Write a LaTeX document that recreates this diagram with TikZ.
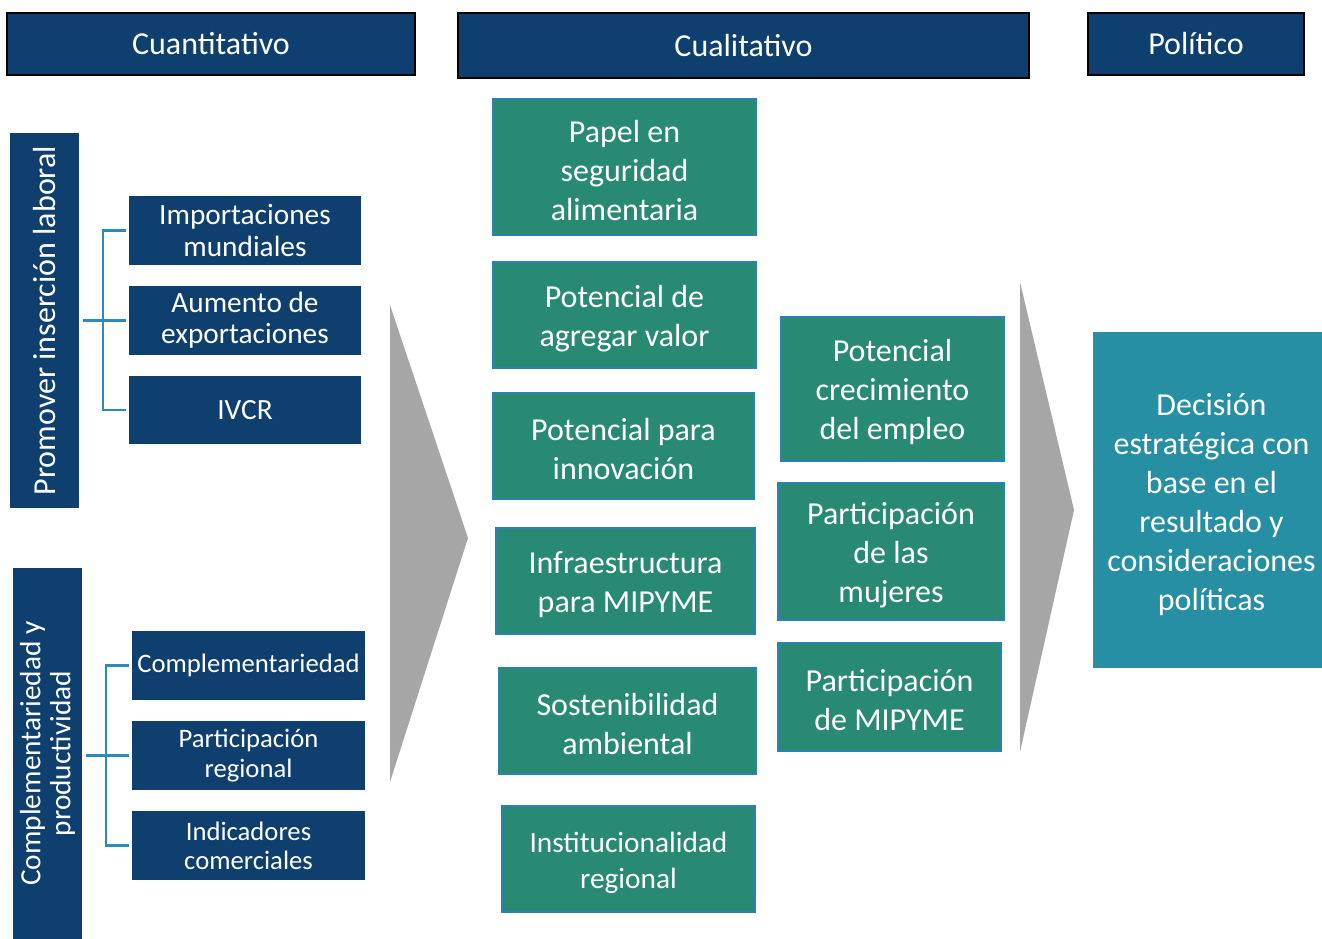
\documentclass[tikz,border=0pt]{standalone}
\usepackage{fontspec}
\setmainfont{Carlito}
\usetikzlibrary{fit}
\definecolor{navy}{HTML}{0E3F6E}
\definecolor{grn}{HTML}{298A73}
\definecolor{grnedge}{HTML}{2A82B2}
\definecolor{teal}{HTML}{268FA3}
\definecolor{brk}{HTML}{2C8BBA}
\definecolor{chev}{HTML}{A6A6A6}
\newcommand{\fa}{\fontsize{24}{29.25}\selectfont}
\newcommand{\fb}{\fontsize{22}{23.5}\selectfont}
\newcommand{\fc}{\fontsize{20}{22}\selectfont}
\begin{document}
\begin{tikzpicture}[x=0.75pt,y=-0.75pt,
  hdr/.style={draw=black, line width=0.8pt, fill=navy, inner sep=0pt},
  nbox/.style={fill=navy, inner sep=0pt},
  gbox/.style={draw=grnedge, line width=1.4pt, fill=grn, inner sep=0pt},
  tbox/.style={fill=teal, inner sep=0pt},
  txt/.style={text=white, inner sep=0pt, align=center},
  gtxt/.style={txt, font=\fa, yshift=-2.5pt},
  brline/.style={draw=brk, line width=1.6pt},
  chevron/.style={fill=chev}]
\useasboundingbox (0,0) rectangle (1322,939);
% headers
\node[hdr, fit={(7,13)(415,75)}] (h1) {};
\node[txt, font=\fa] (h1t) at (h1.center) {Cuantitativo};
\node[hdr, fit={(458,13)(1029,78)}] (h2) {};
\node[txt, font=\fa] (h2t) at (h2.center) {Cualitativo};
\node[hdr, fit={(1088,13)(1304,75)}] (h3) {};
\node[txt, font=\fa] (h3t) at (h3.center) {Político};
% left bars
\node[nbox, fit={(10,133)(79,508)}] (bar1) {};
\node[txt, rotate=90, font=\fa] (bar1t) at (bar1.center) {Promover inserción laboral};
\node[nbox, fit={(13,568)(82,939)}] (bar2) {};
\node[txt, rotate=90, font=\fontsize{22}{22.5}\selectfont] (bar2t) at (bar2.center) {Complementariedad y\\productividad};
% quantitative boxes
\node[nbox, fit={(129,196)(361,265)}] (imp) {};
\node[txt, font=\fb] (impt) at (imp.center) {Importaciones\\mundiales};
\node[nbox, fit={(129,286)(361,355)}] (aum) {};
\node[txt, font=\fb] (aumt) at (aum.center) {Aumento de\\exportaciones};
\node[nbox, fit={(129,376)(361,444)}] (ivcr) {};
\node[txt, font=\fb] (ivcrt) at (ivcr.center) {IVCR};
\node[nbox, fit={(132,631)(365,700)}] (comp) {};
\node[txt, font=\fc] (compt) at (comp.center) {Complementariedad};
\node[nbox, fit={(132,721)(365,790)}] (preg) {};
\node[txt, font=\fc] (pregt) at (preg.center) {Participación\\regional};
\node[nbox, fit={(132,811)(365,880)}] (ind) {};
\node[txt, font=\fc] (indt) at (ind.center) {Indicadores\\comerciales};
% brackets
\draw[brline] ([xshift=-2]imp.west) -- ++(-23,0) |- ([xshift=-2]ivcr.west);
\draw[brline] ([xshift=3]bar1.east |- aum.west) -- ([xshift=-2]aum.west);
\draw[brline] ([xshift=-2]comp.west) -- ++(-23,0) |- ([xshift=-2]ind.west);
\draw[brline] ([xshift=3]bar2.east |- preg.west) -- ([xshift=-2]preg.west);
% chevrons
\coordinate (c1t) at (390,305);
\coordinate (c1p) at (468,538);
\coordinate (c1b) at (390,782);
\fill[chevron] (c1t) -- (c1p) -- (c1b) -- cycle;
\coordinate (c2t) at (1020,282);
\coordinate (c2p) at (1074,510);
\coordinate (c2b) at (1020,752);
\fill[chevron] (c2t) -- (c2p) -- (c2b) -- cycle;
% qualitative boxes
\node[gbox, fit={(493,99)(756,235)}] (pap) {};
\node[gtxt] (papt) at (pap.center) {Papel en\\seguridad\\alimentaria};
\node[gbox, fit={(493,262)(756,368)}] (pot) {};
\node[gtxt] (pott) at (pot.center) {Potencial de\\agregar valor};
\node[gbox, fit={(493,393)(754,499)}] (inn) {};
\node[gtxt] (innt) at (inn.center) {Potencial para\\innovación};
\node[gbox, fit={(496,528)(755,634)}] (inf) {};
\node[gtxt] (inft) at (inf.center) {Infraestructura\\para MIPYME};
\node[gbox, fit={(499,668)(756,774)}] (sos) {};
\node[gtxt] (sost) at (sos.center) {Sostenibilidad\\ambiental};
\node[gbox, fit={(502,806)(755,912)}] (ins) {};
\node[gtxt, font=\fontsize{22}{27}\selectfont] (inst) at (ins.center) {Institucionalidad\\regional};
\node[gbox, fit={(781,317)(1004,461)}] (emp) {};
\node[gtxt] (empt) at (emp.center) {Potencial\\crecimiento\\del empleo};
\node[gbox, fit={(778,483)(1004,620)}] (muj) {};
\node[gtxt] (mujt) at (muj.center) {Participación\\de las\\mujeres};
\node[gbox, fit={(778,643)(1001,751)}] (mip) {};
\node[gtxt] (mipt) at (mip.center) {Participación\\de MIPYME};
% final
\node[tbox, fit={(1093,332)(1322,668)}] (dec) {};
\node[gtxt, xshift=3pt, yshift=-1pt] (dect) at (dec.center) {Decisión\\estratégica con\\base en el\\resultado y\\consideraciones\\políticas};
\end{tikzpicture}
\end{document}
